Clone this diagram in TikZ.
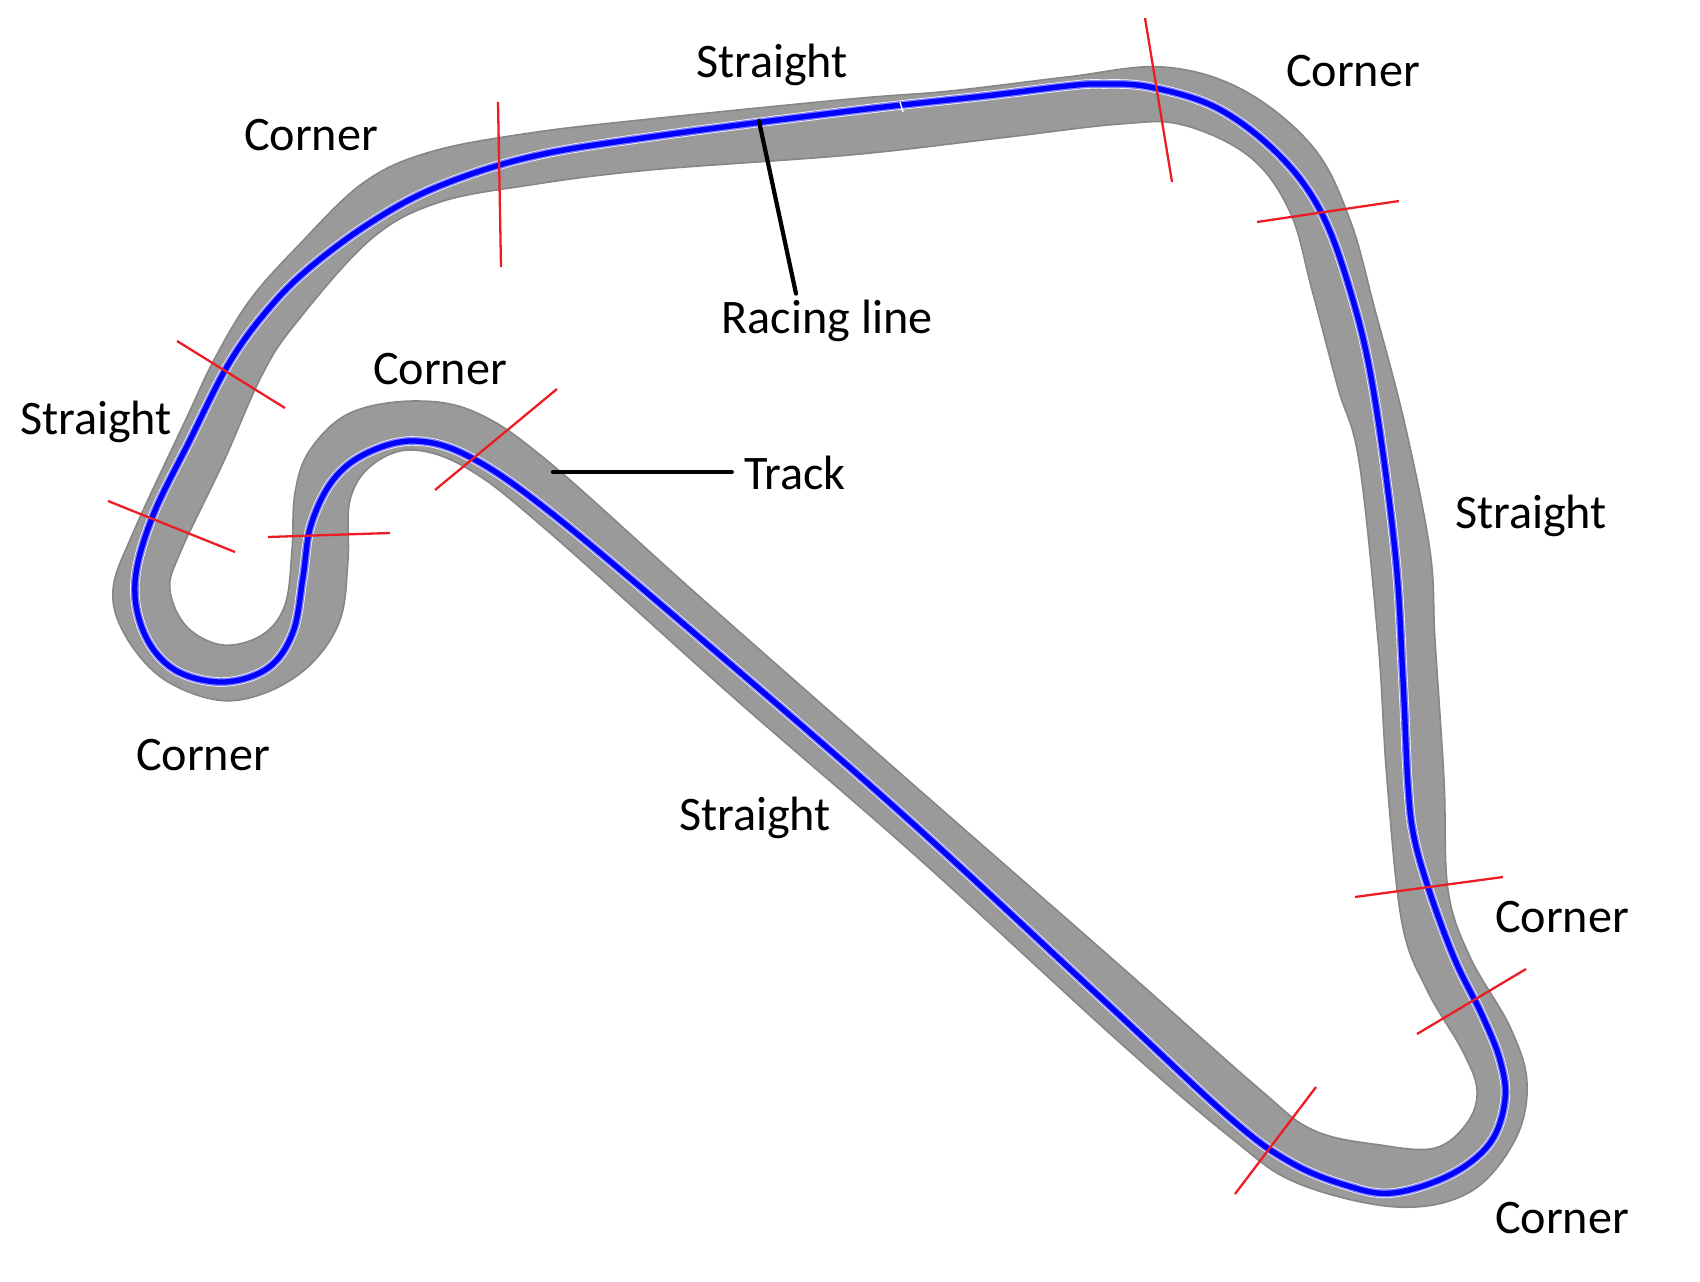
\documentclass[tikz,border=0pt]{standalone}
\usepackage{fontspec}
\setmainfont{Carlito}
\definecolor{trackGray}{HTML}{9A9A9A}
\definecolor{trackEdge}{HTML}{868686}
\definecolor{tickRed}{HTML}{ED1C24}
\definecolor{haloBlue}{HTML}{8080FF}
\begin{document}
\begin{tikzpicture}
[x=0.01cm,y=-0.01cm,%
  trackDecorate/.style={fill=trackGray,draw=trackEdge,line width=0.45pt,even odd rule},%
  tickDecorate/.style={-,draw=tickRed,line width=0.65pt},%
  leaderDecorate/.style={-,draw=black,line width=1.2pt,line cap=round},%
  labelDecorate/.style={anchor=base,font=\fontsize{13.7}{16}\selectfont}]
\useasboundingbox (0,0) rectangle (1700,1282);
%% track surface, outer edge then inner edge
\path[trackDecorate]
  plot[smooth cycle,tension=0.6] coordinates {
    (850,99) (650,119) (530,133) (430,152) (363,183) (297,247) (250,300)
    (215,358) (187,417) (133,533) (113,590) (125,635) (162,678) (217,700)
    (265,693) (310,665) (340,620) (348,560) (350,500) (372,465) (413,450)
    (470,470) (550,533) (733,697) (917,857) (1117,1040) (1230,1137)
    (1297,1183) (1397,1207) (1470,1192) (1515,1140) (1527,1083) (1510,1027)
    (1470,957) (1448,890) (1444,780) (1435,640) (1430,551) (1405,425)
    (1375,310) (1350,220) (1313,147) (1243,90) (1163,67) (1067,77) (950,91)}
  plot[smooth cycle,tension=0.6] coordinates {
    (850,155) (650,170) (530,185) (437,203) (370,240) (296,323)
    (262,375) (223,463) (180,553) (170,590) (187,627) (223,645) (262,635)
    (285,605) (292,550) (295,493) (310,450) (350,413) (415,401) (477,413)
    (550,463) (700,597) (900,773) (1117,963) (1257,1087) (1313,1130)
    (1380,1145) (1435,1148) (1467,1123) (1477,1090) (1462,1050) (1427,990)
    (1402,923) (1387,780) (1378,640) (1359,461) (1338,388) (1312,290)
    (1290,212) (1250,157) (1183,125) (1120,124) (1000,138)};
%% racing line, three passes for the soft edge
\foreach \passcolor/\passwidth in {white/2.7pt, haloBlue/2.3pt, blue/1.5pt}
{
  \draw[\passcolor,line width=\passwidth]
    plot[smooth cycle,tension=0.6] coordinates {
      (850,111) (650,137) (530,157) (437,187) (370,223) (307,270) (265,313)
      (228,365) (190,440) (152,518) (135,583) (145,635) (175,670) (223,682)
      (268,668) (293,632) (303,577) (311,525) (333,480) (367,453) (415,441)
      (470,457) (550,512) (700,638) (900,812) (1100,997) (1230,1118)
      (1290,1162) (1345,1185) (1392,1193) (1450,1175) (1490,1143) (1505,1100)
      (1500,1060) (1482,1015) (1455,960) (1430,893) (1414,837) (1408,785)
      (1403,680) (1395,551) (1373,388) (1350,290) (1320,210) (1277,153)
      (1217,108) (1150,87) (1100,84) (1067,86) (985,96)};
}
%% small break in the racing line
\draw[white,line width=0.4pt] (900,102) -- (903,112);
%% red ticks between corners and straights
\foreach \tickname/\xa/\ya/\xb/\yb in {
  topleft/498/102/501/267, left/177/341/285/408, hairin/108/501/235/552,
  hairout/268/537/390/533, bump/557/389/435/490, topright/1145/18/1172/182,
  rightup/1257/222/1399/201, rightlow/1355/897/1503/877,
  kink/1417/1034/1526/969, bottom/1316/1087/1235/1194}
{
  \coordinate (\tickname a) at (\xa,\ya);
  \coordinate (\tickname b) at (\xb,\yb);
  \draw[tickDecorate] (\tickname a) -- (\tickname b);
}
%% labels
\foreach \nodename/\x/\y/\labeltext in {
  straighttop/772/78/Straight, cornertl/311/151/Corner, cornerbump/440/384/Corner,
  straightleft/96/434/Straight, cornerhair/203/770/Corner,
  cornertr/1353/87/Corner, straightright/1531/528/Straight,
  cornerright/1562/932/Corner, cornerbottom/1562/1233/Corner,
  straightdiag/755/830/Straight}
{
  \node (\nodename) at (\x,\y) [labelDecorate] {\labeltext};
}
\node (racing) at (827,333) [labelDecorate,inner sep=1.5pt] {Racing line};
\node (track) at (795,489) [labelDecorate] {Track};
%% leaders
\coordinate (racingtip) at (759,121);
\coordinate (tracktip) at (553,472);
\draw[leaderDecorate] (racingtip) -- (racing.north -| 796,0);
\draw[leaderDecorate] (tracktip) -- (tracktip -| track.west);
\end{tikzpicture}
\end{document}
